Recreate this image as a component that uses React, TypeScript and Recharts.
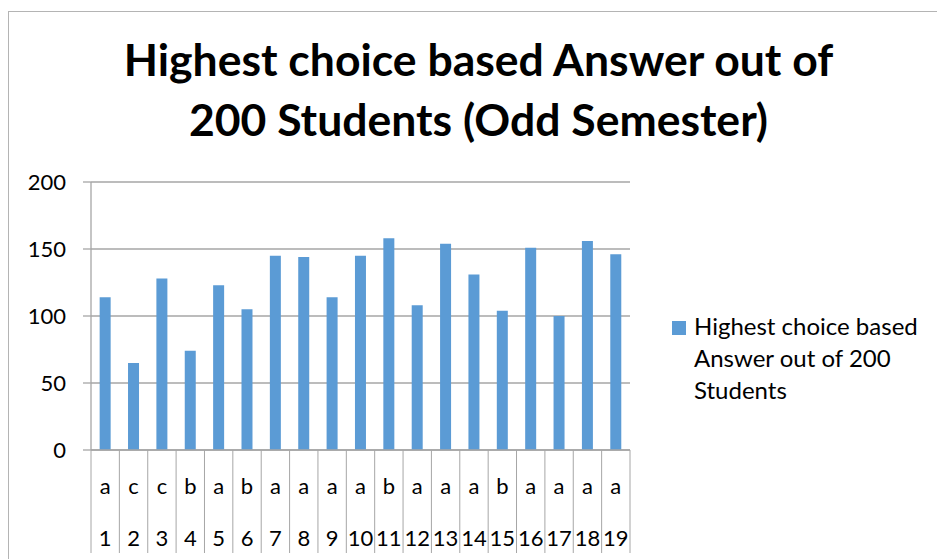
import React from "react"
import {
  BarChart,
  Bar,
  XAxis,
  YAxis,
  CartesianGrid,
} from "recharts"

const questions = ["1", "2", "3", "4", "5", "6", "7", "8", "9", "10", "11", "12", "13", "14", "15", "16", "17", "18", "19"]
const choices = ["a", "c", "c", "b", "a", "b", "a", "a", "a", "a", "b", "a", "a", "a", "b", "a", "a", "a", "a"]
const answers = [114, 65, 128, 74, 123, 105, 145, 144, 114, 145, 158, 108, 154, 131, 104, 151, 100, 156, 146]
const yTicks = [0, 50, 100, 150, 200]

const SERIES_NAME = "Highest choice based Answer out of 200 Students"
const BAR_COLOR = "#5b9bd5"
const LINE_COLOR = "#a6a6a6"
const FONT = "Lato, 'Noto Sans', sans-serif"

const W = 937
const H = 559
const MARGIN = { top: 182, right: 307, bottom: 9, left: 8 }
const Y_AXIS_W = 83
const PLOT_W = W - MARGIN.left - MARGIN.right - Y_AXIS_W
const STEP = PLOT_W / questions.length

const data = questions.map((q, i) => ({
  key: `${choices[i]}-${q}`,
  question: q,
  choice: choices[i],
  value: answers[i],
}))

const CategoryTick = (props: any) => {
  const { x, y, payload, index } = props
  const i = payload?.index ?? index
  const row = data[i]
  const left = x - STEP / 2
  const right = x + STEP / 2
  return (
    <g>
      <line x1={left} y1={y} x2={left} y2={y + 103} stroke={LINE_COLOR} strokeWidth={1} />
      {i === data.length - 1 && (
        <line x1={right} y1={y} x2={right} y2={y + 103} stroke={LINE_COLOR} strokeWidth={1} />
      )}
      <text x={x} y={y + 44} textAnchor="middle" fontSize={22} fontFamily={FONT} fill="#000">
        {row?.choice}
      </text>
      <text x={x} y={y + 96} textAnchor="middle" fontSize={22} fontFamily={FONT} fill="#000">
        {row?.question}
      </text>
    </g>
  )
}

// legend drawn outside the svg so it doesn't eat into the plot area
const ChartLegend = () => (
  <div
    style={{
      position: "absolute",
      left: 672,
      top: 310,
      fontFamily: FONT,
      fontSize: 24,
      lineHeight: "32px",
      color: "#000",
    }}
  >
    <div
      style={{
        position: "absolute",
        left: 0,
        top: 10.7,
        width: 14,
        height: 14,
        background: BAR_COLOR,
      }}
    />
    <div style={{ paddingLeft: 22, whiteSpace: "nowrap" }}>
      Highest choice based
      <br />
      Answer out of 200
      <br />
      Students
    </div>
  </div>
)

export default function App() {
  return (
    <div
      style={{
        position: "fixed",
        left: 0,
        top: 0,
        width: W,
        height: H,
        overflow: "hidden",
        background: "#fff",
      }}
    >
      <div
        style={{
          position: "absolute",
          left: 8,
          top: 11,
          width: 960,
          height: 600,
          border: "1px solid #b4b4b4",
          boxSizing: "border-box",
        }}
      />
      <div
        style={{
          position: "absolute",
          left: 0,
          top: 29,
          width: 957,
          textAlign: "center",
          fontFamily: FONT,
          fontWeight: 700,
          fontSize: 44.5,
          lineHeight: "60px",
          color: "#000",
        }}
      >
        Highest choice based Answer out of
        <br />
        200 Students (Odd Semester)
      </div>
      <div style={{ position: "absolute", left: 0, top: 0 }}>
        <BarChart width={W} height={H} data={data} margin={MARGIN} barCategoryGap="30.5%">
          <CartesianGrid vertical={false} stroke={LINE_COLOR} strokeWidth={1.3} />
          <XAxis
            dataKey="key"
            interval={0}
            height={100}
            tickSize={0}
            tickMargin={0}
            tickLine={false}
            axisLine={{ stroke: LINE_COLOR, strokeWidth: 1.3 }}
            tick={<CategoryTick />}
          />
          <YAxis
            width={Y_AXIS_W}
            domain={[0, 200]}
            ticks={yTicks}
            interval={0}
            tickSize={8}
            tickMargin={17}
            axisLine={{ stroke: LINE_COLOR, strokeWidth: 1.3 }}
            tickLine={{ stroke: LINE_COLOR, strokeWidth: 1.3 }}
            tick={{ fontSize: 22, fontFamily: FONT, fill: "#000" }}
          />
          <Bar dataKey="value" name={SERIES_NAME} fill={BAR_COLOR} isAnimationActive={false} />
        </BarChart>
      </div>
      <ChartLegend />
    </div>
  )
}
